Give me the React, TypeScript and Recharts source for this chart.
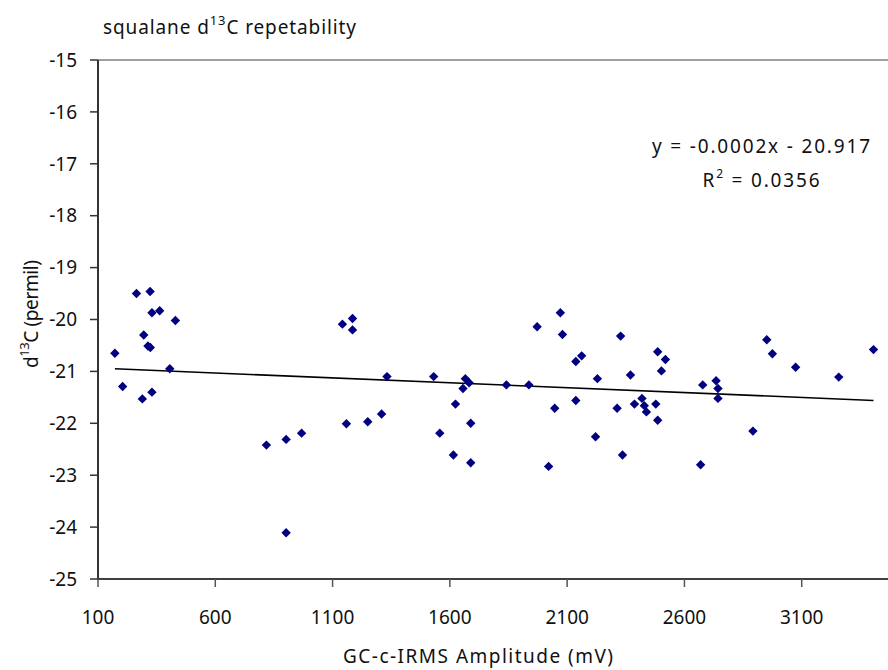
import React from 'react';
import { ScatterChart, Scatter, XAxis, YAxis, ReferenceLine, Customized } from 'recharts';

const amplitudes = [
  172, 205, 264, 289, 295, 313, 323, 322, 330, 330, 363, 406, 430,
  818, 902, 902, 968, 1142, 1159, 1185, 1185, 1250, 1309, 1332,
  1531, 1557, 1624, 1615, 1656, 1666, 1682, 1689, 1689,
  1841, 1937, 1972, 2021, 2047, 2071, 2080,
  2137, 2162, 2137, 2229, 2221,
  2328, 2313, 2336, 2370, 2387, 2419, 2429, 2438, 2478, 2486, 2486, 2519, 2502,
  2669, 2678, 2735, 2743, 2743,
  2892, 2951, 2975, 3074, 3258, 3406,
];

const d13C = [
  -20.65, -21.29, -19.5, -21.53, -20.3, -20.51, -20.54, -19.46, -19.87, -21.4, -19.83, -20.95, -20.02,
  -22.42, -22.31, -24.11, -22.19, -20.09, -22.01, -19.98, -20.2, -21.97, -21.82, -21.1,
  -21.1, -22.19, -21.63, -22.61, -21.33, -21.14, -21.22, -22.0, -22.76,
  -21.26, -21.26, -20.14, -22.83, -21.71, -19.87, -20.29,
  -20.81, -20.7, -21.56, -21.14, -22.26,
  -20.32, -21.71, -22.61, -21.07, -21.63, -21.52, -21.66, -21.78, -21.63, -21.94, -20.62, -20.77, -20.99,
  -22.8, -21.26, -21.18, -21.33, -21.52,
  -22.15, -20.39, -20.66, -20.92, -21.11, -20.58,
];

const xTicks = [100, 600, 1100, 1600, 2100, 2600, 3100];
const yTicks = [-25, -24, -23, -22, -21, -20, -19, -18, -17, -16, -15];

// trend line end points (y = -0.0002x - 20.917)
const trendX = [172, 3406];
const trendY = [-20.95, -21.56];

const points = amplitudes.map((x, i) => ({ x, y: d13C[i] }));
const trendSegment = trendX.map((x, i) => ({ x, y: trendY[i] }));

const FONT = '"Noto Sans", "Open Sans", sans-serif';
const TEXT = '#111';

const Diamond = (props: any) => {
  const { cx, cy } = props;
  if (cx == null || cy == null) return null;
  const r = 4.7;
  return (
    <polygon
      points={`${cx},${cy - r} ${cx + r},${cy} ${cx},${cy + r} ${cx - r},${cy}`}
      fill="#000080"
    />
  );
};

const TextLayer = () => (
  <g fontFamily={FONT} fill={TEXT}>
    <text x={103} y={34} fontSize={19} textLength={253} lengthAdjust="spacing">
      squalane d<tspan dy={-9} fontSize={13}>13</tspan>
      <tspan dy={9}>C repetability</tspan>
    </text>
    <text x={761} y={153} fontSize={19} textAnchor="middle" textLength={218} lengthAdjust="spacing">
      y = -0.0002x - 20.917
    </text>
    <text x={761} y={187} fontSize={19} textAnchor="middle" textLength={117} lengthAdjust="spacing">
      R<tspan dy={-9} fontSize={12}>2</tspan>
      <tspan dy={9}> = 0.0356</tspan>
    </text>
    <text x={478} y={663} fontSize={19} textAnchor="middle" textLength={270} lengthAdjust="spacing">
      GC-c-IRMS Amplitude (mV)
    </text>
    <text
      x={38}
      y={314}
      fontSize={19}
      textAnchor="middle"
      transform="rotate(-90, 38, 314)"
      textLength={108}
      lengthAdjust="spacing"
    >
      d<tspan dy={-9} fontSize={13}>13</tspan>
      <tspan dy={9}>C (permil)</tspan>
    </text>
  </g>
);

export default function App() {
  return (
    <div
      style={{
        position: 'absolute',
        left: 0,
        top: 0,
        width: 888,
        height: 670,
        overflow: 'hidden',
        background: '#fff',
      }}
    >
      <ScatterChart
        width={919}
        height={670}
        margin={{ top: 60, right: 0, bottom: 31, left: 0 }}
      >
        <XAxis
          type="number"
          dataKey="x"
          domain={[100, 3600]}
          ticks={xTicks}
          interval={0}
          allowDataOverflow
          height={60}
          tickSize={8}
          tickMargin={24}
          axisLine={{ stroke: '#000', strokeWidth: 1.5 }}
          tickLine={{ stroke: '#555', strokeWidth: 1.5 }}
          tick={{ fontSize: 19, fill: TEXT, fontFamily: FONT }}
        />
        <YAxis
          type="number"
          dataKey="y"
          domain={[-25, -15]}
          ticks={yTicks}
          interval={0}
          allowDataOverflow
          width={98}
          tickSize={8}
          tickMargin={13}
          axisLine={{ stroke: '#333', strokeWidth: 2 }}
          tickLine={{ stroke: '#333', strokeWidth: 1.5 }}
          tick={{ fontSize: 19, fill: TEXT, fontFamily: FONT }}
        />
        <ReferenceLine y={-15} stroke="#808080" strokeWidth={1.5} />
        <ReferenceLine segment={trendSegment} stroke="#000" strokeWidth={1.6} />
        <Scatter data={points} shape={<Diamond />} isAnimationActive={false} />
        <Customized component={TextLayer} />
      </ScatterChart>
    </div>
  );
}
